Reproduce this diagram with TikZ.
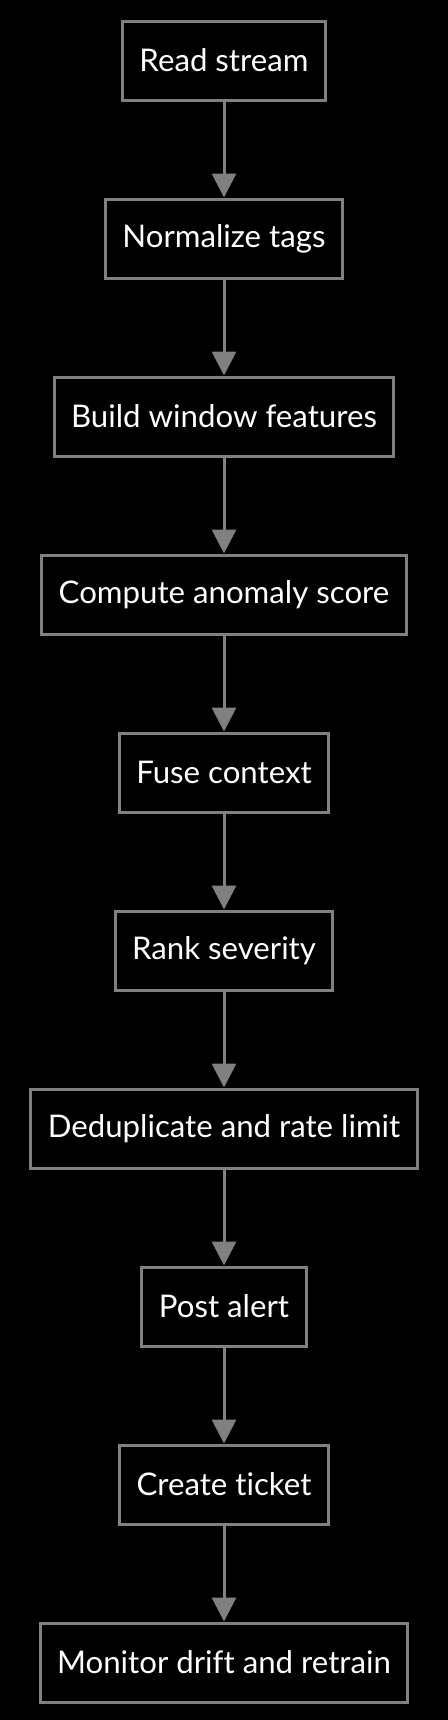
\documentclass[tikz,border=0pt]{standalone}
\usepackage{fontspec}
\setmainfont{Lato}[Ligatures={NoCommon}]
\usepackage{tikz}
\usetikzlibrary{arrows.meta, positioning}

\begin{document}
\begin{tikzpicture}[x=0.5pt, y=-0.5pt,
  stage/.style={draw=gray, line width=1.5pt, fill=black, text=white,
    minimum height=39.5pt, inner xsep=8.5pt, font=\fontsize{15.6}{19}\selectfont},
  flow/.style={draw=gray, line width=1.5pt, -{Triangle[width=12pt, length=12pt]}}]
% Background
\fill[black] (0,0) rectangle (448,1720);
\useasboundingbox (0,0) rectangle (448,1720);

% Stages
\node[stage] (read) at (224,60.5) {Read stream};
\node[stage] (norm) at (224,238.5) {Normalize tags};
\node[stage] (feat) at (224,416.5) {Build window features};
\node[stage] (score) at (224,594.5) {Compute anomaly score};
\node[stage] (fuse) at (224,772.5) {Fuse context};
\node[stage] (rank) at (224,950.5) {Rank severity};
\node[stage] (dedup) at (224,1128.5) {Deduplicate and rate limit};
\node[stage] (post) at (224,1306.5) {Post alert};
\node[stage] (ticket) at (224,1484.5) {Create ticket};
\node[stage] (monitor) at (224,1662.5) {Monitor drift and retrain};

% Flow
\draw[flow] (read) -- (norm);
\draw[flow] (norm) -- (feat);
\draw[flow] (feat) -- (score);
\draw[flow] (score) -- (fuse);
\draw[flow] (fuse) -- (rank);
\draw[flow] (rank) -- (dedup);
\draw[flow] (dedup) -- (post);
\draw[flow] (post) -- (ticket);
\draw[flow] (ticket) -- (monitor);
\end{tikzpicture}
\end{document}
